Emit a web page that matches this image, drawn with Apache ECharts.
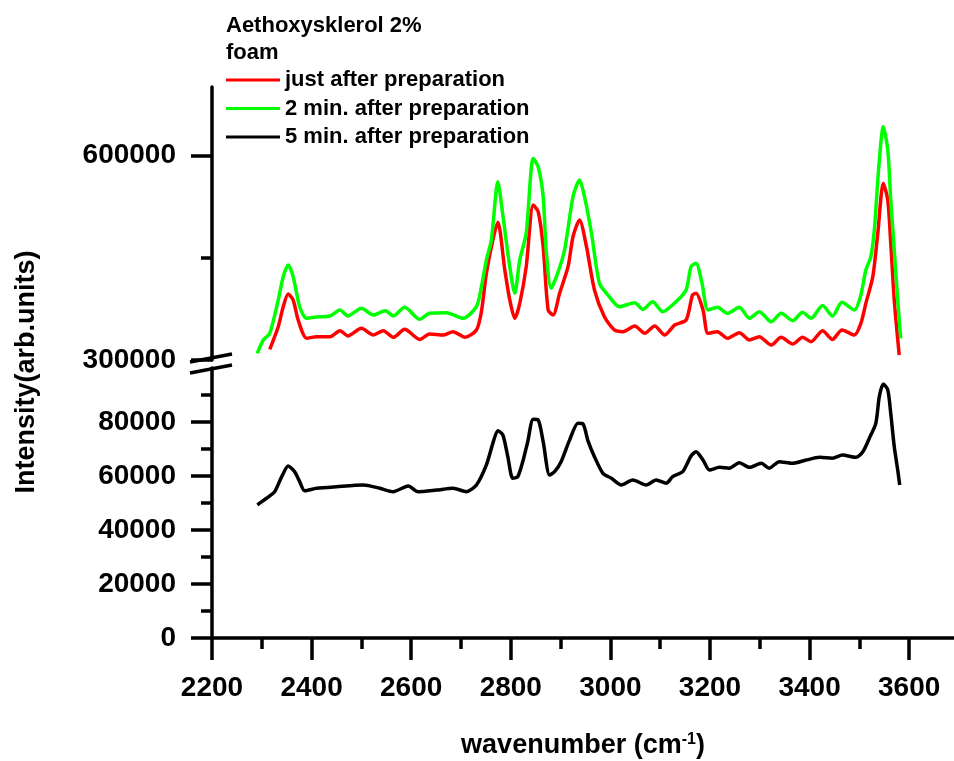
<!DOCTYPE html>
<html>
<head>
    <meta charset="utf-8">
    <title>Aethoxysklerol 2% foam</title>
    <script src="https://cdn.jsdelivr.net/npm/echarts@6.0.0/dist/echarts.min.js"></script>
    <style>
        body { margin: 0; background: #fff; }
    </style>
</head>
<body>
    <div id="main" style="width: 954px;height:761px;"></div>

    <script type="text/javascript">
        // spectra: wavenumber (cm-1) and intensity
        var redX = [2316, 2333, 2343, 2353, 2363, 2373, 2390, 2410, 2437, 2457, 2473, 2500, 2524, 2544, 2564, 2587, 2617, 2637, 2664, 2684, 2708, 2731, 2741, 2751, 2764, 2774, 2788, 2798, 2808, 2818, 2831, 2845, 2855, 2865, 2875, 2885, 2898, 2915, 2925, 2938, 2952, 2968, 2988, 3008, 3025, 3049, 3069, 3089, 3109, 3129, 3152, 3165, 3172, 3186, 3196, 3215, 3235, 3259, 3279, 3299, 3323, 3343, 3366, 3386, 3403, 3426, 3446, 3465, 3490, 3503, 3513, 3527, 3537, 3548, 3557, 3563, 3570, 3580];
        var redY = [315700, 348800, 378100, 396700, 387900, 358600, 331800, 334100, 334100, 343000, 335200, 346400, 336600, 343000, 333200, 344900, 330200, 338100, 336600, 341500, 333200, 344000, 370800, 427000, 475900, 502000, 431900, 388000, 361100, 383000, 436800, 527100, 517300, 466100, 373300, 366000, 397700, 436800, 480700, 505200, 466100, 402600, 363500, 344000, 341500, 349800, 339100, 349800, 336600, 351300, 358600, 395300, 397700, 373300, 339100, 341500, 331800, 340000, 329300, 334100, 322000, 333200, 323400, 333200, 326800, 343000, 330200, 344000, 336600, 353600, 383000, 422100, 485700, 559000, 534500, 471000, 387900, 307300];

        var greenX = [2291, 2303, 2316, 2333, 2343, 2353, 2363, 2376, 2390, 2410, 2437, 2457, 2473, 2500, 2524, 2548, 2564, 2587, 2617, 2637, 2671, 2704, 2731, 2741, 2751, 2761, 2774, 2784, 2796, 2808, 2818, 2831, 2845, 2855, 2865, 2871, 2881, 2894, 2908, 2925, 2938, 2948, 2962, 2978, 2995, 3018, 3049, 3065, 3085, 3105, 3132, 3152, 3162, 3172, 3184, 3196, 3215, 3235, 3259, 3279, 3299, 3323, 3343, 3366, 3386, 3403, 3426, 3446, 3465, 3490, 3503, 3513, 3523, 3530, 3539, 3548, 3557, 3563, 3570, 3577, 3583];
        var greenY = [309800, 329300, 339100, 387900, 422100, 439200, 422100, 378100, 361100, 363000, 364500, 373300, 364500, 375800, 366000, 372300, 364500, 377200, 359600, 368400, 369300, 361100, 378100, 407400, 446500, 475900, 561000, 512500, 446500, 397700, 446500, 485700, 595400, 583100, 539400, 461200, 405100, 427000, 461200, 539300, 563800, 539300, 485700, 412400, 395300, 378100, 384000, 374100, 385500, 370800, 385500, 402600, 436800, 441600, 412400, 373300, 377200, 368400, 377200, 361100, 370800, 356100, 368400, 357600, 369800, 361100, 379800, 364500, 384500, 373300, 395300, 431900, 451400, 490500, 583100, 641900, 607800, 534500, 461200, 387900, 331800];

        var blackX = [2291, 2316, 2326, 2340, 2353, 2366, 2376, 2386, 2410, 2450, 2504, 2537, 2564, 2594, 2614, 2651, 2684, 2711, 2731, 2751, 2764, 2774, 2784, 2794, 2804, 2814, 2824, 2834, 2845, 2855, 2865, 2878, 2888, 2901, 2918, 2935, 2945, 2955, 2968, 2985, 3002, 3022, 3045, 3072, 3092, 3112, 3125, 3145, 3162, 3172, 3186, 3199, 3219, 3239, 3259, 3279, 3303, 3319, 3339, 3366, 3393, 3420, 3446, 3466, 3493, 3507, 3520, 3533, 3540, 3548, 3557, 3563, 3570, 3577, 3581];
        var blackY = [49300, 52600, 54200, 59750, 63700, 61600, 57900, 54560, 55450, 56040, 56670, 55450, 54200, 56300, 54200, 54800, 55450, 54200, 56670, 64100, 72100, 76800, 75200, 67150, 59150, 59750, 65300, 72700, 81000, 80750, 72700, 60370, 61600, 65300, 73300, 79500, 79300, 73000, 67150, 61000, 59150, 56670, 58500, 56670, 58500, 57300, 59750, 61600, 67400, 69000, 65900, 62200, 63200, 62900, 64900, 63200, 64700, 62900, 65300, 64700, 65900, 66900, 66600, 67800, 66900, 69000, 74000, 79500, 89400, 94100, 91900, 83200, 70900, 62200, 56670];

        var seriesNames = ['just after preparation', '2 min. after preparation', '5 min. after preparation'];

        // tick values
        var xMajorTicks = [2200, 2400, 2600, 2800, 3000, 3200, 3400, 3600];
        var xMinorTicks = [2300, 2500, 2700, 2900, 3100, 3300, 3500];
        var upperMajorTicks = [300000, 600000];
        var upperMinorTicks = [450000];
        var lowerMajorTicks = [0, 20000, 40000, 60000, 80000];
        var lowerMinorTicks = [10000, 30000, 50000, 70000, 90000];

        function zip(xs, ys) {
            return xs.map(function (x, i) { return [x, ys[i]]; });
        }

        // layout
        var FONT = '"Liberation Sans", Arial, sans-serif';
        var GRID_LEFT = 212;
        var UPPER_TOP = 87, UPPER_H = 273;
        var LOWER_TOP = 368, LOWER_H = 270;
        var X_MIN = 2200, X_MAX = 3690;

        var myChart = echarts.init(document.getElementById('main'));

        var lineStyle = { color: '#000', width: 3.5 };
        var labelStyle = {
            color: '#000', fontFamily: FONT, fontWeight: 'bold', fontSize: 28,
            formatter: function (v) { return String(v); }
        };

        function yAxisMain(grid, min, max, ticks) {
            return {
                type: 'value', gridIndex: grid, position: 'left', min: min, max: max,
                axisLine: { show: true, onZero: false, lineStyle: lineStyle },
                axisTick: { show: true, length: 21, lineStyle: lineStyle, customValues: ticks },
                axisLabel: Object.assign({ margin: 36, customValues: ticks }, labelStyle),
                splitLine: { show: false }
            };
        }
        function yAxisMinor(grid, min, max, ticks) {
            return {
                type: 'value', gridIndex: grid, position: 'left', min: min, max: max,
                axisLine: { show: false, onZero: false },
                axisTick: { show: true, length: 11, lineStyle: lineStyle, customValues: ticks },
                axisLabel: { show: false },
                splitLine: { show: false }
            };
        }

        function spectrum(name, color, xi, yi, xs, ys) {
            return {
                name: name, type: 'line', xAxisIndex: xi, yAxisIndex: yi,
                data: zip(xs, ys), showSymbol: false, color: color,
                smooth: 0.25,
                lineStyle: { color: color, width: 3.5 }
            };
        }

        var option = {
            animation: false,
            backgroundColor: '#fff',
            title: {
                text: 'Aethoxysklerol 2%\nfoam',
                left: 226,
                top: 12,
                padding: 0,
                textStyle: { color: '#000', fontFamily: FONT, fontWeight: 'bold', fontSize: 22, lineHeight: 27 }
            },
            legend: {
                orient: 'vertical',
                left: 226,
                top: 69,
                padding: 0,
                itemGap: 6.5,
                itemWidth: 54,
                itemHeight: 3,
                icon: 'rect',
                data: seriesNames,
                textStyle: { color: '#000', fontFamily: FONT, fontWeight: 'bold', fontSize: 22, lineHeight: 22 }
            },
            grid: [
                { left: GRID_LEFT, right: 0, top: UPPER_TOP, height: UPPER_H },
                { left: GRID_LEFT, right: 0, top: LOWER_TOP, height: LOWER_H }
            ],
            xAxis: [
                { type: 'value', gridIndex: 0, min: X_MIN, max: X_MAX, show: false },
                {
                    type: 'value', gridIndex: 1, position: 'bottom', min: X_MIN, max: X_MAX,
                    axisLine: { show: true, onZero: false, lineStyle: lineStyle },
                    axisTick: { show: true, length: 22, lineStyle: lineStyle, customValues: xMajorTicks },
                    axisLabel: Object.assign({ margin: 36, customValues: xMajorTicks }, labelStyle),
                    splitLine: { show: false },
                    name: 'wavenumber (cm{sup|-1})',
                    nameLocation: 'middle',
                    nameGap: 94,
                    nameTextStyle: {
                        color: '#000', fontFamily: FONT, fontWeight: 'bold', fontSize: 27,
                        rich: { sup: { fontFamily: FONT, fontWeight: 'bold', fontSize: 16, verticalAlign: 'top', padding: [0, 0, 12, 0] } }
                    }
                },
                {
                    type: 'value', gridIndex: 1, position: 'bottom', min: X_MIN, max: X_MAX,
                    axisLine: { show: false, onZero: false },
                    axisTick: { show: true, length: 11, lineStyle: lineStyle, customValues: xMinorTicks },
                    axisLabel: { show: false },
                    splitLine: { show: false }
                }
            ],
            yAxis: [
                yAxisMain(0, 300000, 700000, upperMajorTicks),
                yAxisMinor(0, 300000, 700000, upperMinorTicks),
                yAxisMain(1, 0, 100000, lowerMajorTicks),
                yAxisMinor(1, 0, 100000, lowerMinorTicks)
            ],
            graphic: [
                // y axis title, spans both panels
                {
                    type: 'text', x: 27, y: 372, rotation: Math.PI / 2,
                    style: {
                        text: 'Intensity(arb.units)', fill: '#000', align: 'center', verticalAlign: 'middle',
                        font: 'bold 27px ' + FONT
                    }
                },
                // axis break marks
                {
                    type: 'line',
                    shape: { x1: GRID_LEFT - 22, y1: UPPER_TOP + UPPER_H + 2, x2: GRID_LEFT + 20, y2: UPPER_TOP + UPPER_H - 6 },
                    style: { stroke: '#000', lineWidth: 3.5 }
                },
                {
                    type: 'line',
                    shape: { x1: GRID_LEFT - 22, y1: LOWER_TOP + 5, x2: GRID_LEFT + 20, y2: LOWER_TOP - 3 },
                    style: { stroke: '#000', lineWidth: 3.5 }
                }
            ],
            series: [
                spectrum(seriesNames[0], '#ff0000', 0, 0, redX, redY),
                spectrum(seriesNames[1], '#00ff00', 0, 0, greenX, greenY),
                spectrum(seriesNames[2], '#000000', 1, 2, blackX, blackY)
            ]
        };

        myChart.setOption(option);
    </script>
</body>
</html>
